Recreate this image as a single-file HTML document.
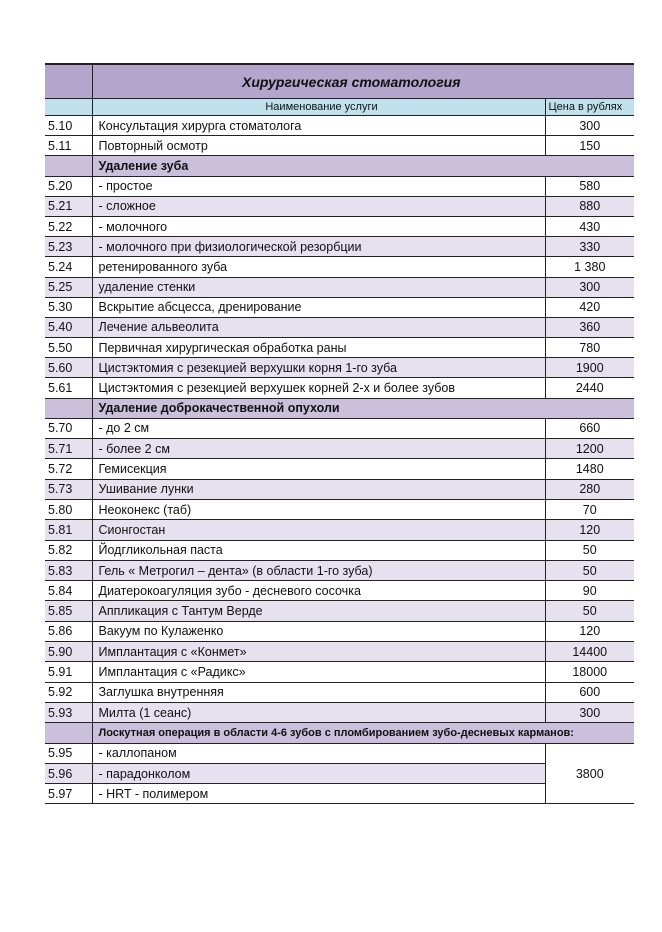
<!DOCTYPE html>
<html><head><meta charset="utf-8"><style>
body{margin:0;background:#fff;width:662px;height:932px;overflow:hidden;font-family:"Liberation Sans","DejaVu Sans",sans-serif;}
table{position:absolute;left:45px;top:63px;width:589px;border-collapse:collapse;table-layout:fixed;font-size:12.5px;color:#111;}
td{border-top:1px solid #222;border-bottom:1px solid #222;padding:0 0 0 6px;white-space:nowrap;overflow:hidden;line-height:14px;}
td.n{border-right:1px solid #222;padding-left:3px;}
td.p{border-left:1px solid #222;text-align:center;padding:0;}
tr.s td{background:#e6e0ef;}
tr.h td{background:#cbc0dc;font-weight:bold;}
tr.a td{height:19.2px;}
tr.b td{height:19.3px;}
</style></head><body>
<table>
<col style="width:47px"><col style="width:453px"><col style="width:89px">
<tr><td class="n" style="background:#b3a5cc;height:33px;border-top:2px solid #222"></td><td colspan="2" style="background:#b3a5cc;text-align:center;font-style:italic;font-weight:bold;font-size:14px;border-top:2px solid #222;padding-right:30px">Хирургическая стоматология</td></tr>
<tr><td class="n" style="background:#bfe0ec;height:16px"></td><td style="background:#bfe0ec;text-align:center;font-size:11px">Наименование услуги</td><td class="p" style="background:#bfe0ec;font-size:11px;padding:0 0 0 3px;text-align:left">Цена в рублях</td></tr>
<tr class="a"><td class="n">5.10</td><td>Консультация хирурга стоматолога</td><td class="p">300</td></tr>
<tr class="a"><td class="n">5.11</td><td>Повторный осмотр</td><td class="p">150</td></tr>
<tr class="h a"><td class="n"></td><td colspan="2">Удаление зуба</td></tr>
<tr class="a"><td class="n">5.20</td><td>- простое</td><td class="p">580</td></tr>
<tr class="a s"><td class="n">5.21</td><td>- сложное</td><td class="p">880</td></tr>
<tr class="a"><td class="n">5.22</td><td>- молочного</td><td class="p">430</td></tr>
<tr class="a s"><td class="n">5.23</td><td>- молочного при физиологической резорбции</td><td class="p">330</td></tr>
<tr class="a"><td class="n">5.24</td><td>ретенированного зуба</td><td class="p">1 380</td></tr>
<tr class="a s"><td class="n">5.25</td><td>удаление стенки</td><td class="p">300</td></tr>
<tr class="a"><td class="n">5.30</td><td>Вскрытие абсцесса, дренирование</td><td class="p">420</td></tr>
<tr class="a s"><td class="n">5.40</td><td>Лечение альвеолита</td><td class="p">360</td></tr>
<tr class="a"><td class="n">5.50</td><td>Первичная хирургическая обработка раны</td><td class="p">780</td></tr>
<tr class="a s"><td class="n">5.60</td><td>Цистэктомия с резекцией верхушки корня 1-го зуба</td><td class="p">1900</td></tr>
<tr class="a"><td class="n">5.61</td><td>Цистэктомия с резекцией верхушек корней 2-х и более зубов</td><td class="p">2440</td></tr>
<tr class="h a"><td class="n"></td><td colspan="2">Удаление доброкачественной опухоли</td></tr>
<tr class="b"><td class="n">5.70</td><td>- до 2 см</td><td class="p">660</td></tr>
<tr class="b s"><td class="n">5.71</td><td>- более 2 см</td><td class="p">1200</td></tr>
<tr class="b"><td class="n">5.72</td><td>Гемисекция</td><td class="p">1480</td></tr>
<tr class="b s"><td class="n">5.73</td><td>Ушивание лунки</td><td class="p">280</td></tr>
<tr class="b"><td class="n">5.80</td><td>Неоконекс (таб)</td><td class="p">70</td></tr>
<tr class="b s"><td class="n">5.81</td><td>Сионгостан</td><td class="p">120</td></tr>
<tr class="b"><td class="n">5.82</td><td>Йодгликольная паста</td><td class="p">50</td></tr>
<tr class="b s"><td class="n">5.83</td><td>Гель « Метрогил – дента» (в области 1-го зуба)</td><td class="p">50</td></tr>
<tr class="b"><td class="n">5.84</td><td>Диатерокоагуляция зубо - десневого сосочка</td><td class="p">90</td></tr>
<tr class="b s"><td class="n">5.85</td><td>Аппликация с Тантум Верде</td><td class="p">50</td></tr>
<tr class="b"><td class="n">5.86</td><td>Вакуум по Кулаженко</td><td class="p">120</td></tr>
<tr class="b s"><td class="n">5.90</td><td>Имплантация с «Конмет»</td><td class="p">14400</td></tr>
<tr class="b"><td class="n">5.91</td><td>Имплантация с «Радикс»</td><td class="p">18000</td></tr>
<tr class="b"><td class="n">5.92</td><td>Заглушка внутренняя</td><td class="p">600</td></tr>
<tr class="b s"><td class="n">5.93</td><td>Милта (1 сеанс)</td><td class="p">300</td></tr>
<tr class="h b"><td class="n"></td><td colspan="2" style="font-size:11px">Лоскутная операция  в области 4-6 зубов  с пломбированием зубо-десневых карманов:</td></tr>
<tr class="b"><td class="n">5.95</td><td>- каллопаном</td><td class="p" rowspan="3" style="background:#fff">3800</td></tr>
<tr class="b s"><td class="n">5.96</td><td>- парадонколом</td></tr>
<tr class="b"><td class="n">5.97</td><td>- HRT - полимером</td></tr>
</table>
</body></html>
